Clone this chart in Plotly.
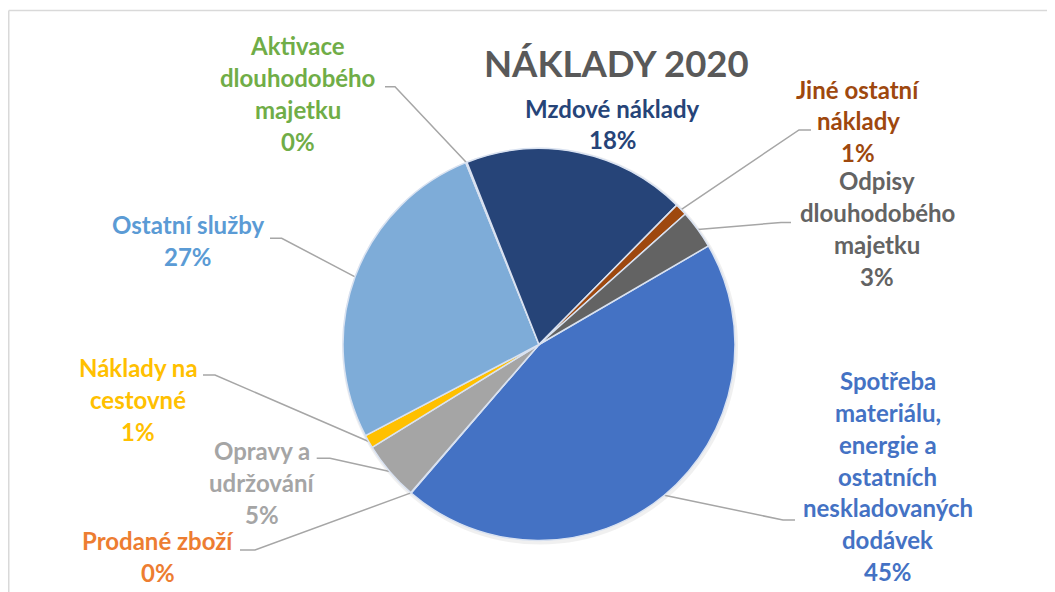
import math
import plotly.graph_objects as go

# ---------------- data ----------------
categories = [
    "Spotřeba materiálu, energie a ostatních neskladovaných dodávek",
    "Prodané zboží",
    "Opravy a udržování",
    "Náklady na cestovné",
    "Ostatní služby",
    "Aktivace dlouhodobého majetku",
    "Mzdové náklady",
    "Jiné ostatní náklady",
    "Odpisy dlouhodobého majetku",
]
values = [44.7, 0.05, 4.85, 1.1, 26.6, 0.1, 18.4, 1.0, 3.2]
title_text = "NÁKLADY 2020"

# wrapped label text (as in the chart)
wrapped = [
    ["Spotřeba", "materiálu,", "energie a", "ostatních", "neskladovaných", "dodávek"],
    ["Prodané zboží"],
    ["Opravy a", "udržování"],
    ["Náklady na", "cestovné"],
    ["Ostatní služby"],
    ["Aktivace", "dlouhodobého", "majetku"],
    ["Mzdové náklady"],
    ["Jiné ostatní", "náklady"],
    ["Odpisy", "dlouhodobého", "majetku"],
]

# ---------------- style / layout ----------------
OFF = 8                       # page body margin
W, H = 1055 - OFF, 592 - OFF  # figure size
slice_colors = ["#4472C4", "#ED7D31", "#A5A5A5", "#FFC000", "#7EACD8",
                "#70AD47", "#264478", "#9E480E", "#636363"]
text_colors = ["#4472C4", "#ED7D31", "#A5A5A5", "#FFC000", "#5B9BD5",
               "#70AD47", "#264478", "#9E480E", "#636363"]
FONT = "Lato"
LABEL_FS = 24
TITLE_FS = 36.5
LINE_SP = 31.8
ROTATION = 59.8
CX, CY, R = 539, 344.5, 196   # page pixel coords

# label anchor: centre x, first baseline y
label_pos = [(887.5, 390), (157.5, 550), (262, 460), (138, 376.7), (188, 234),
             (297.5, 55), (612.5, 117.3), (858, 98.3), (877, 190)]
# leader: start point at text, elbow x (None = no leader)
leaders = [((795, 520), 783), ((240, 550), 255), ((316.7, 458.3), 330),
           ((203, 375), 215), ((270, 238.3), 281.7), ((385, 86.7), 395),
           None, ((811, 130), 799), ((791, 222.5), 781)]

total = sum(values)
pcts = [f"{v / total * 100:.0f}%" for v in values]

fig = go.Figure()

fig.add_trace(go.Pie(
    labels=categories, values=values, sort=False, direction="clockwise",
    rotation=ROTATION, textinfo="none", hoverinfo="label+percent",
    marker=dict(colors=slice_colors, line=dict(color="#D9E2F1", width=1.5)),
    domain=dict(x=[(CX - R - OFF) / W, (CX + R - OFF) / W],
                y=[1 - (CY + R - OFF) / H, 1 - (CY - R - OFF) / H]),
    showlegend=False,
))

# leader lines (end at slice mid-angle on the pie edge)
cum = 0.0
for i, v in enumerate(values):
    mid = ROTATION + (cum + v / 2) / total * 360
    cum += v
    if leaders[i] is None:
        continue
    (sx, sy), ex = leaders[i]
    px = CX + R * math.sin(math.radians(mid))
    py = CY - R * math.cos(math.radians(mid))
    fig.add_trace(go.Scatter(x=[sx, ex, px], y=[sy, sy, py], mode="lines",
                             line=dict(color="#A6A6A6", width=1.5),
                             hoverinfo="skip", showlegend=False))

annotations = []
for i in range(len(categories)):
    lines = wrapped[i] + [pcts[i]]
    x0, y0 = label_pos[i]
    for k, t in enumerate(lines):
        yb = y0 + k * LINE_SP
        annotations.append(dict(
            x=x0, y=yb - 0.387 * LABEL_FS, xref="x", yref="y", text=t,
            showarrow=False, xanchor="center", yanchor="middle",
            font=dict(family=FONT, size=LABEL_FS, color=text_colors[i], weight="bold"),
        ))
annotations.append(dict(
    x=616, y=77 - 0.387 * TITLE_FS, xref="x", yref="y", text=title_text, showarrow=False,
    xanchor="center", yanchor="middle",
    font=dict(family=FONT, size=TITLE_FS, color="#595959", weight="bold"),
))

shapes = [
    dict(type="circle", xref="x", yref="y", x0=CX - R - 1, x1=CX + R + 3,
         y0=CY - R - 1, y1=CY + R + 4, fillcolor="rgba(0,0,0,0.06)",
         line=dict(width=0), layer="below"),
    dict(type="line", xref="x", yref="y", x0=OFF + 0.75, x1=1055, y0=10.5, y1=10.5,
         line=dict(color="#D9D9D9", width=1.5)),
    dict(type="line", xref="x", yref="y", x0=OFF + 0.75, x1=OFF + 0.75, y0=10.5, y1=592,
         line=dict(color="#D9D9D9", width=1.5)),
]

fig.update_layout(
    width=W, height=H, margin=dict(l=0, r=0, t=0, b=0),
    paper_bgcolor="white", plot_bgcolor="rgba(0,0,0,0)",
    xaxis=dict(range=[OFF, 1055], visible=False, fixedrange=True, domain=[0, 1]),
    yaxis=dict(range=[592, OFF], visible=False, fixedrange=True, domain=[0, 1]),
    annotations=annotations, shapes=shapes,
)

fig.write_html("out.html")
